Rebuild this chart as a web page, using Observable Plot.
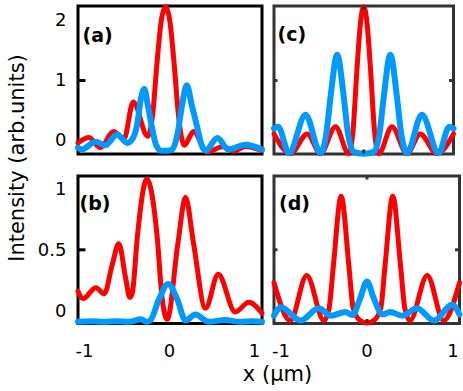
<!DOCTYPE html>
<html><head><meta charset="utf-8">
<script src="https://cdn.jsdelivr.net/npm/d3@7"></script>
<script src="https://cdn.jsdelivr.net/npm/@observablehq/plot@0.6"></script>
<style>
html,body{margin:0;padding:0;background:#fff;}
#chart{position:relative;width:463px;height:391px;font-family:"DejaVu Sans",sans-serif;overflow:hidden;}
#chart svg{position:absolute;overflow:visible;}
.lbl{position:absolute;font-size:21px;line-height:1;white-space:nowrap;color:#000;font-family:"DejaVu Sans",sans-serif;}
</style></head><body><div id="chart"></div>
<script>
// ---- Data ----
// Panel (a)
const aRedX  = [-1.10,-0.97,-0.84,-0.68,-0.56,-0.45,-0.28,-0.22,-0.17,-0.12,-0.07,-0.02,0.03,0.08,0.15,0.26,0.42,0.61,0.73,0.87,1.065];
const aRedY  = [-0.04,0.05,-0.12,0.15,0.02,0.64,0.07,0.45,1.3,2.0,2.23,2.0,1.3,0.45,-0.08,0.15,-0.19,-0.1,-0.18,-0.1,-0.17];
const aBlueX = [-1.10,-1.06,-0.89,-0.78,-0.64,-0.52,-0.45,-0.40,-0.36,-0.32,-0.28,-0.23,-0.18,-0.12,-0.05,0.0,0.07,0.12,0.18,0.24,0.30,0.35,0.40,0.54,0.67,0.87,1.065];
const aBlueY = [-0.12,-0.15,-0.02,-0.08,0.10,-0.04,0.05,0.3,0.7,0.86,0.6,0.22,-0.08,-0.17,-0.17,-0.16,0.1,0.55,0.92,0.58,0.24,-0.06,-0.17,0.04,-0.15,-0.07,-0.15];
// Panel (b)
const bRedX  = [-1.10,-1.04,-0.89,-0.79,-0.70,-0.62,-0.54,-0.49,-0.46,-0.40,-0.29,-0.17,-0.11,-0.05,0.075,0.165,0.26,0.40,0.55,0.75,0.91,1.065];
const bRedY  = [0.16,0.10,0.19,0.14,0.37,0.55,0.27,0.11,0.15,0.62,1.08,0.62,0.10,-0.07,0.55,0.93,0.55,0.02,0.30,-0.01,0.07,-0.02];
const bBlueX = [-1.10,-0.95,-0.80,-0.65,-0.50,-0.36,-0.29,-0.25,-0.15,-0.04,0.07,0.165,0.28,0.44,0.63,0.80,0.95,1.065];
const bBlueY = [-0.09,-0.085,-0.09,-0.085,-0.09,-0.07,-0.09,-0.08,0.09,0.22,0.09,-0.08,-0.03,-0.09,-0.075,-0.09,-0.085,-0.09];
// Panel (c)
const cRedX  = [-1.08,-0.88,-0.68,-0.52,-0.34,-0.18,-0.13,-0.08,-0.04,0,0.04,0.08,0.13,0.18,0.34,0.52,0.68,0.88,1.08];
const cRedY  = [0.11,-0.22,0.11,-0.22,0.23,-0.22,0.15,1.22,1.95,2.23,1.95,1.22,0.15,-0.22,0.23,-0.22,0.11,-0.22,0.11];
const cBlueX = [-1.08,-1.03,-0.90,-0.70,-0.52,-0.45,-0.40,-0.32,-0.24,-0.19,-0.12,0,0.12,0.19,0.24,0.32,0.40,0.45,0.52,0.70,0.90,1.03,1.08];
const cBlueY = [0.20,0.23,-0.21,0.43,-0.21,0.12,0.72,1.43,0.72,0.12,-0.19,-0.22,-0.19,0.12,0.72,1.43,0.72,0.12,-0.21,0.43,-0.21,0.23,0.20];
// Panel (d)
const dRedX  = [-1.08,-0.89,-0.70,-0.50,-0.44,-0.39,-0.30,-0.21,-0.16,-0.08,0,0.08,0.16,0.21,0.30,0.39,0.44,0.50,0.70,0.89,1.075];
const dRedY  = [0.23,-0.08,0.29,-0.08,0.02,0.37,0.94,0.37,0.02,-0.08,-0.10,-0.08,0.02,0.37,0.94,0.37,0.02,-0.08,0.29,-0.08,0.23];
const dBlueX = [-1.08,-1.00,-0.77,-0.56,-0.42,-0.25,-0.17,-0.08,0,0.08,0.18,0.27,0.41,0.58,0.78,0.99,1.075];
const dBlueY = [-0.04,0.03,-0.08,0.02,-0.04,-0.01,-0.035,0.10,0.24,0.10,-0.03,-0.01,-0.04,0.02,-0.08,0.05,-0.03];

// Tick labels
const yTicksTop = [0, 1, 2];
const yTicksBottom = [0, 0.5, 1];
const xTicks = [-1, 0, 1];
const midTickTop = [1];
const midTickBottom = [0.5];
const centerTick = [0];
const panelLabels = ["(a)", "(b)", "(c)", "(d)"];

const RED = "#ff0000", BLUE = "#0099ff";

function pts(xs, ys) { return xs.map((x, i) => ({x, y: ys[i]})); }

function makePanel(p) {
  const fw = p.width - p.mL - p.mR, fh = p.height - p.mT - p.mB;
  const marks = [
    Plot.frame({stroke: p.frameColor, strokeWidth: 3}),
    Plot.line(pts(p.redX, p.redY), {x: "x", y: "y", stroke: RED, strokeWidth: 5, curve: "monotone-x"}),
    Plot.line(pts(p.blueX, p.blueY), {x: "x", y: "y", stroke: BLUE, strokeWidth: 6, curve: "monotone-x"}),
    Plot.text([p.label], {frameAnchor: "top-left", dx: p.ldx, dy: p.ldy, textAnchor: "start", fontWeight: "bold", fontSize: 19, fill: "#000"})
  ];
  if (p.left) {
    marks.push(Plot.ruleY(p.mid, {stroke: "#000", strokeWidth: 3, insetRight: fw - 8}));
    marks.push(Plot.axisY({ticks: p.yTicks, tickSize: 0, tickPadding: 11.5, tickFormat: d => String(d), label: null, fontSize: 18}));
  } else {
    marks.push(Plot.ruleY(p.mid, {stroke: p.frameColor, strokeWidth: 3, insetRight: fw - 4}));
    marks.push(Plot.ruleY(p.mid, {stroke: p.frameColor, strokeWidth: 3, insetLeft: fw - 4}));
    marks.push(Plot.ruleX(centerTick, {stroke: p.frameColor, strokeWidth: 3, insetBottom: fh - 4}));
    marks.push(Plot.ruleX(centerTick, {stroke: p.frameColor, strokeWidth: 3, insetTop: fh - 4}));
  }
  if (p.bottom) {
    marks.push(Plot.axisX({ticks: xTicks, tickSize: 0, tickPadding: 21, dx: p.axdx, tickFormat: d => String(d), label: null, fontSize: 18}));
  }
  const svg = Plot.plot({
    width: p.width, height: p.height,
    marginLeft: p.mL, marginRight: p.mR, marginTop: p.mT, marginBottom: p.mB,
    x: {domain: p.xDomain, axis: null},
    y: {domain: p.yDomain, axis: null},
    style: {fontFamily: "DejaVu Sans", fontSize: "18px", background: "transparent", overflow: "visible", color: "#000"},
    marks
  });
  svg.style.left = p.x + "px";
  svg.style.top = p.y + "px";
  return svg;
}

const chart = document.getElementById("chart");
const yDomTop = [-0.225, 2.242], yDomBottom = [-0.104, 1.105];

chart.appendChild(makePanel({x: 0, y: 0, width: 270, height: 160, mL: 77.5, mR: 8.5, mT: 5.5, mB: 6.5,
  xDomain: [-1.10, 1.065], yDomain: yDomTop, redX: aRedX, redY: aRedY, blueX: aBlueX, blueY: aBlueY,
  frameColor: "#000", label: panelLabels[0], ldx: 4.5, ldy: 22, left: true, bottom: false, yTicks: yTicksTop, mid: midTickTop}));
chart.appendChild(makePanel({x: 0, y: 165, width: 270, height: 200, mL: 77.5, mR: 8.5, mT: 10.5, mB: 42,
  xDomain: [-1.10, 1.065], yDomain: yDomBottom, redX: bRedX, redY: bRedY, blueX: bBlueX, blueY: bBlueY,
  frameColor: "#000", label: panelLabels[1], ldx: 1.5, ldy: 20, left: true, bottom: true, axdx: -2, yTicks: yTicksBottom, mid: midTickBottom}));
chart.appendChild(makePanel({x: 265, y: 0, width: 198, height: 160, mL: 8.5, mR: 10, mT: 5.5, mB: 6.5,
  xDomain: [-1.08, 1.08], yDomain: yDomTop, redX: cRedX, redY: cRedY, blueX: cBlueX, blueY: cBlueY,
  frameColor: "#333", label: panelLabels[2], ldx: 3.5, ldy: 21, left: false, bottom: false, mid: midTickTop}));
chart.appendChild(makePanel({x: 265, y: 165, width: 198, height: 200, mL: 8.5, mR: 4, mT: 10.5, mB: 42,
  xDomain: [-1.08, 1.075], yDomain: yDomBottom, redX: dRedX, redY: dRedY, blueX: dBlueX, blueY: dBlueY,
  frameColor: "#333", label: panelLabels[3], ldx: 5, ldy: 20, left: false, bottom: true, axdx: 0, mid: midTickBottom}));

const yTitle = document.createElement("div");
yTitle.className = "lbl";
yTitle.textContent = "Intensity (arb.units)";
yTitle.style.left = "17px";
yTitle.style.top = "157.5px";
yTitle.style.transform = "translate(-50%,-50%) rotate(-90deg)";
chart.appendChild(yTitle);

const xTitle = document.createElement("div");
xTitle.className = "lbl";
xTitle.textContent = "x (μm)";
xTitle.style.left = "277.5px";
xTitle.style.top = "364px";
xTitle.style.transform = "translateX(-50%)";
chart.appendChild(xTitle);
</script></body></html>
